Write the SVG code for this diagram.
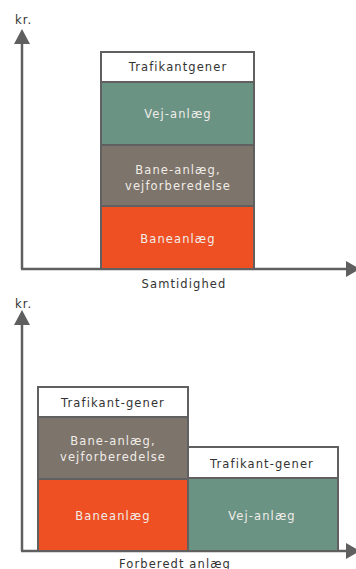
<svg xmlns="http://www.w3.org/2000/svg" width="356" height="569" viewBox="0 0 356 569">
<defs>
<style>
text{font-family:"DejaVu Sans","Verdana",sans-serif;font-size:11.5px;letter-spacing:1.1px;text-anchor:middle}
.dk{fill:#333333}
.lt{fill:#f0ece8}
.box{stroke:#606060;stroke-width:2}
.w{fill:#ffffff}
.teal{fill:#6b9384}
.brn{fill:#7d746b}
.org{fill:#ef5023}
.ax{stroke:#5f5f5f;stroke-width:2.5;fill:none}
.ah{fill:#5f5f5f}
</style>
</defs>
<g id="axes">
<line class="ax" x1="22" y1="40" x2="22" y2="269"/>
<line class="ax" x1="21" y1="269" x2="348" y2="269"/>
<polygon class="ah" points="22,29 14,44 30,44"/>
<polygon class="ah" points="360,269 346,261 346,277"/>
<text class="dk" x="15" y="24" style="text-anchor:start">kr.</text>
<text class="dk" x="184" y="288">Samtidighed</text>
<line class="ax" x1="22" y1="321" x2="22" y2="551"/>
<line class="ax" x1="21" y1="551" x2="348" y2="551"/>
<polygon class="ah" points="22,310 14,325 30,325"/>
<polygon class="ah" points="360,551 346,543 346,559"/>
<text class="dk" x="15" y="307.5" style="text-anchor:start">kr.</text>
<text class="dk" x="175" y="567.5">Forberedt anlæg</text>
</g>
<g id="top-trafikantgener">
<rect class="box w" x="101" y="52" width="153" height="30"/>
<text class="dk" x="178" y="70.5">Trafikantgener</text>
</g>
<g id="top-vejanlaeg">
<rect class="box teal" x="101" y="82" width="153" height="63"/>
<text class="lt" x="178" y="118">Vej-anlæg</text>
</g>
<g id="top-baneanlaeg-vejforberedelse">
<rect class="box brn" x="101" y="145" width="153" height="61"/>
<text class="lt" x="178" y="173.5">Bane-anlæg,</text>
<text class="lt" x="178" y="190">vejforberedelse</text>
</g>
<g id="top-baneanlaeg">
<rect class="box org" x="101" y="206" width="153" height="63"/>
<text class="lt" x="178" y="243">Baneanlæg</text>
</g>
<g id="bot-left-trafikantgener">
<rect class="box w" x="38" y="387" width="150" height="30"/>
<text class="dk" x="113" y="406.5">Trafikant-gener</text>
</g>
<g id="bot-left-baneanlaeg-vejforberedelse">
<rect class="box brn" x="38" y="417" width="150" height="62"/>
<text class="lt" x="113" y="444.5">Bane-anlæg,</text>
<text class="lt" x="113" y="461">vejforberedelse</text>
</g>
<g id="bot-left-baneanlaeg">
<rect class="box org" x="38" y="479" width="150" height="72"/>
<text class="lt" x="113" y="519.5">Baneanlæg</text>
</g>
<g id="bot-right-trafikantgener">
<rect class="box w" x="188" y="447" width="150" height="31"/>
<text class="dk" x="262" y="468">Trafikant-gener</text>
</g>
<g id="bot-right-vejanlaeg">
<rect class="box teal" x="188" y="478" width="150" height="73"/>
<text class="lt" x="262" y="519.5">Vej-anlæg</text>
</g>
</svg>
